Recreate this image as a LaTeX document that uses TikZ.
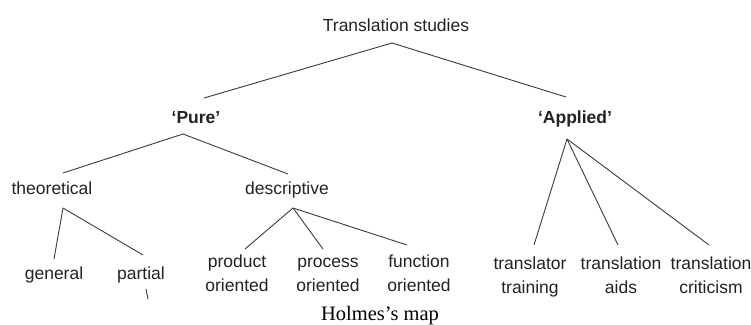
\documentclass[tikz,border=0pt]{standalone}
\usepackage{fontspec}
\setmainfont{Liberation Sans}
\newfontfamily\capfont{Liberation Serif}
\usetikzlibrary{calc}
\definecolor{InkGrey}{HTML}{222222}
\definecolor{LineGrey}{HTML}{3a3a3a}

\begin{document}
\begin{tikzpicture}[
        x=1pt, y=-1pt,
        lbl/.style={anchor=base, inner sep=0pt, align=center, text=InkGrey,
                    font=\fontsize{17.5}{24}\selectfont},
        head/.style={lbl, font=\fontsize{17.5}{24}\selectfont\bfseries},
        br/.style={draw=LineGrey, line width=0.9pt},
      ]
        \useasboundingbox (0,0) rectangle (751,324);
        % top
        \node[lbl] (ts) at (396,31) {Translation studies};
        \node[head] (pure) at (196,123) {‘Pure’};
        \node[head] (applied) at (575,123) {‘Applied’};
        \draw[br] ($(ts.base)+(-4,12)$) -- ($(pure.base)+(8,-25)$);
        \draw[br] ($(ts.base)+(-4,12)$) -- ($(applied.base)+(-9,-26)$);
        % pure branch
        \node[lbl] (theo) at (52,194) {theoretical};
        \node[lbl] (desc) at (287,194) {descriptive};
        \draw[br] ($(pure.base)+(-13,11)$) -- ($(theo.base)+(11,-21)$);
        \draw[br] ($(pure.base)+(-13,11)$) -- ($(desc.base)+(1,-20)$);
        \node[lbl] (gen) at (54,279) {general};
        \node[lbl] (part) at (141,279) {partial};
        \draw[br] ($(theo.base)+(11,14)$) -- ($(gen.base)+(0,-20)$);
        \draw[br] ($(theo.base)+(11,14)$) -- ($(part.base)+(2,-24)$);
        \draw[br] ($(part.base)+(5,10)$) -- ($(part.base)+(7,20)$);
        % two-line labels: base is the last line
        \node[lbl] (prod) at (237,291) {product\\oriented};
        \node[lbl] (proc) at (328,291) {process\\oriented};
        \node[lbl] (func) at (419,291) {function\\oriented};
        \draw[br] ($(desc.base)+(6,14)$) -- ($(prod.base)+(8,-42)$);
        \draw[br] ($(desc.base)+(6,14)$) -- ($(proc.base)+(-5,-42)$);
        \draw[br] ($(desc.base)+(6,14)$) -- ($(func.base)+(-12,-46)$);
        % applied branch
        \node[lbl] (train) at (530,293) {translator\\training};
        \node[lbl] (aids) at (621,293) {translation\\aids};
        \node[lbl] (crit) at (711,293) {translation\\criticism};
        \draw[br] ($(applied.base)+(-8,16)$) -- ($(train.base)+(4,-48)$);
        \draw[br] ($(applied.base)+(-8,16)$) -- ($(aids.base)+(-3,-48)$);
        \draw[br] ($(applied.base)+(-8,16)$) -- ($(crit.base)+(-2,-48)$);
        % caption
        \node[anchor=base, inner sep=0pt, font=\capfont\fontsize{20.5}{24}\selectfont] (cap) at (380,320) {Holmes’s map};
      \end{tikzpicture}
\end{document}
